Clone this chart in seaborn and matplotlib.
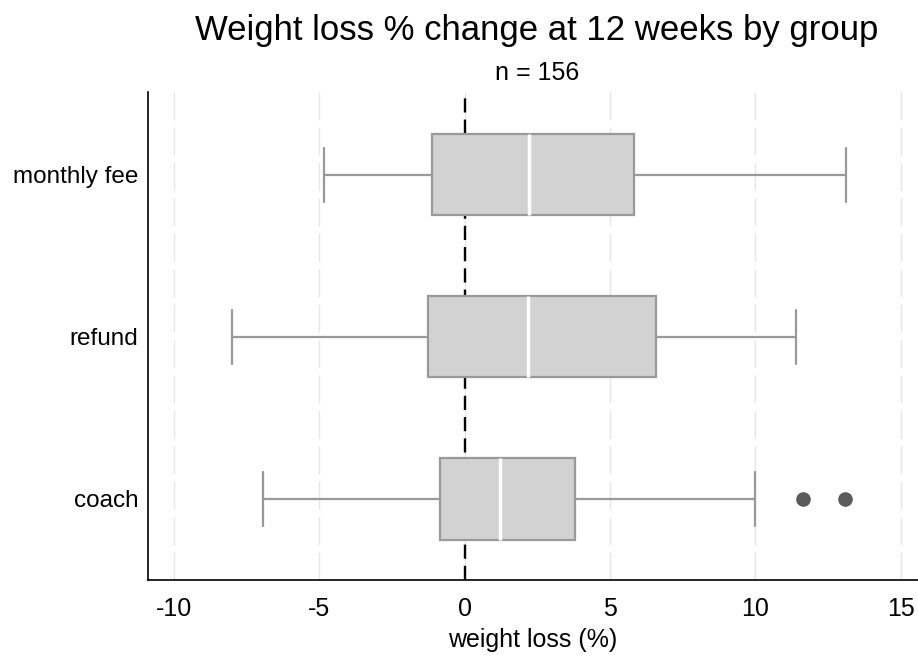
import numpy as np
import pandas as pd
import matplotlib
matplotlib.use("Agg")
import matplotlib.pyplot as plt
import seaborn as sns

# values (quartiles, whiskers and outliers per group)
groups = ["monthly fee", "refund", "coach"]
monthly_fee = [-4.83, -2.9, -1.12, 0.6, 2.22, 4.1, 5.82, 9.4, 13.13]
refund = [-8.0, -4.6, -1.25, 0.4, 2.17, 4.3, 6.6, 9.0, 11.4]
coach = [-6.95, -4.3, -2.1, -0.85, -0.2, 0.5, 1.21, 2.0, 3.0, 3.79, 9.99, 11.65, 13.08]
x_ticks = [-10, -5, 0, 5, 10, 15]

df = pd.concat([
    pd.DataFrame({"group": "monthly fee", "loss": monthly_fee}),
    pd.DataFrame({"group": "refund", "loss": refund}),
    pd.DataFrame({"group": "coach", "loss": coach}),
])

sns.set_style("white")
plt.rcParams["font.family"] = ["Liberation Sans", "DejaVu Sans"]
plt.rcParams["text.color"] = "black"
plt.rcParams["axes.labelcolor"] = "black"
plt.rcParams["xtick.color"] = "black"
plt.rcParams["ytick.color"] = "black"

fig = plt.figure(figsize=(9.18, 6.58), dpi=100)
ax = fig.add_axes([0.1612, 0.1185, 0.8388, 0.7415])

ax.grid(axis="x", color="#e6e6e6", linestyle=(0, (20, 5.5)), linewidth=1.0)
ax.set_axisbelow(True)
ax.axvline(0, color="black", linestyle=(0, (6, 3)), linewidth=1.7, zorder=1)

sns.boxplot(data=df, x="loss", y="group", order=groups, orient="h",
            width=0.5, saturation=1, color="#d2d2d2", linecolor="#999999",
            linewidth=1.6, whis=1.5, capwidths=0.33,
            medianprops=dict(color="white", linewidth=2.5),
            flierprops=dict(marker="o", markerfacecolor="#5a5a5a",
                            markeredgecolor="#5a5a5a", markersize=9.5),
            ax=ax)

ax.set_xlim(-10.9, 15.6)
ax.set_ylim(2.5, -0.51)
ax.set_xticks(x_ticks)
ax.set_xticklabels([str(t) for t in x_ticks])
ax.tick_params(axis="x", length=7, width=1, labelsize=18, pad=5)
ax.tick_params(axis="y", length=0, labelsize=17.5, pad=7)
ax.set_xlabel("weight loss (%)", fontsize=18, labelpad=5)
ax.set_ylabel("")

for side in ["top", "right"]:
    ax.spines[side].set_visible(False)
for side in ["left", "bottom"]:
    ax.spines[side].set_color("black")
    ax.spines[side].set_linewidth(1.2)

fig.text(0.585, 0.954, "Weight loss % change at 12 weeks by group",
         ha="center", va="center", fontsize=25)
fig.text(0.585, 0.889, "n = 156", ha="center", va="center", fontsize=18)

fig.savefig("out.png", dpi=100)
